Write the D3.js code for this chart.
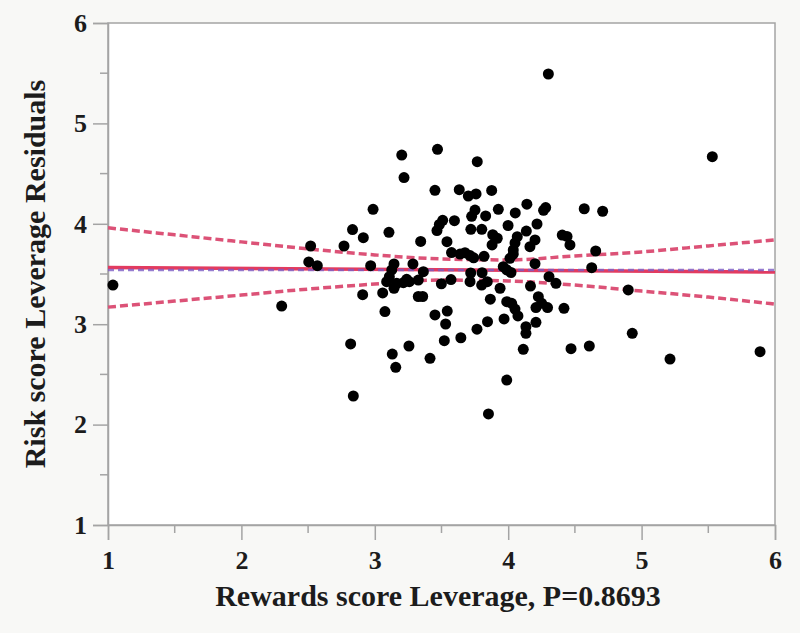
<!DOCTYPE html>
<html>
<head>
<meta charset="utf-8">
<script src="https://cdn.jsdelivr.net/npm/d3@7"></script>
<style>
  html, body { margin: 0; padding: 0; background: #f8f8f6; }
  svg { display: block; }
  text { font-family: "Liberation Serif", "Times New Roman", serif; font-weight: bold; fill: #1c1c1c; }
</style>
</head>
<body>
<svg id="chart" width="800" height="633"></svg>
<script>
// Leverage plot: Risk score residuals against Rewards score leverage
const xLabel = "Rewards score Leverage, P=0.8693";
const yLabel = "Risk score Leverage Residuals";
const xTicks = [1, 2, 3, 4, 5, 6];
const yTicks = [1, 2, 3, 4, 5, 6];

// Leverage points
const rewardsLeverage = [
  1.037, 2.302, 2.519, 2.505, 2.569, 2.769, 2.833, 2.914, 2.987, 3.106,
  3.202, 3.219, 2.969, 3.144, 3.127, 3.109, 3.089, 3.164, 3.214, 3.259,
  3.144, 2.909, 3.059, 3.076, 2.819, 2.839, 3.131, 3.157, 3.256, 3.414,
  3.326, 3.359, 3.451, 3.543, 3.531, 3.521, 3.645, 3.766, 3.845, 3.866,
  3.286, 3.364, 3.326, 3.239, 3.344, 3.470, 3.768, 3.451, 3.633, 3.701,
  3.759, 3.876, 3.751, 3.726, 3.831, 3.926, 3.509, 3.484, 3.466, 3.597,
  3.720, 3.802, 3.884, 3.541, 3.575, 3.639, 3.676, 3.714, 3.741, 3.819,
  3.879, 3.918, 3.719, 3.804, 3.499, 3.571, 3.714, 3.801, 3.843, 3.939,
  3.969, 3.989, 4.026, 4.051, 4.073, 4.133, 4.133, 4.113, 4.208, 4.226,
  4.208, 4.251, 4.295, 4.418, 3.989, 3.852, 4.471, 4.608, 4.167, 4.301,
  5.530, 4.140, 4.053, 4.281, 4.265, 4.570, 4.708, 3.999, 4.216, 4.136,
  4.201, 4.163, 4.068, 4.051, 4.038, 4.013, 4.405, 4.441, 4.463, 4.656,
  4.626, 3.963, 3.989, 4.021, 4.201, 4.038, 4.306, 4.358, 4.900, 4.930,
  5.213, 5.888
];
const riskResiduals = [
  3.390, 3.181, 3.779, 3.620, 3.583, 3.779, 3.943, 3.862, 4.144, 3.915,
  4.685, 4.461, 3.583, 3.600, 3.540, 3.473, 3.423, 3.407, 3.413, 3.423,
  3.358, 3.294, 3.311, 3.126, 2.803, 2.285, 2.703, 2.571, 2.783, 2.660,
  3.276, 3.276, 3.092, 3.131, 3.002, 2.836, 2.865, 2.950, 3.025, 3.249,
  3.600, 3.523, 3.440, 3.447, 3.824, 4.742, 4.619, 4.334, 4.340, 4.277,
  4.297, 4.332, 4.137, 4.075, 4.078, 4.144, 4.035, 3.993, 3.933, 4.031,
  3.945, 3.945, 3.891, 3.822, 3.714, 3.699, 3.712, 3.684, 3.661, 3.676,
  3.789, 3.856, 3.510, 3.513, 3.403, 3.445, 3.423, 3.390, 3.423, 3.358,
  3.052, 3.224, 3.208, 3.151, 3.082, 2.975, 2.909, 2.750, 3.019, 3.274,
  3.166, 3.208, 3.166, 3.158, 2.444, 2.106, 2.756, 2.783, 3.380, 5.492,
  4.668, 4.195, 4.108, 4.162, 4.134, 4.150, 4.125, 3.983, 3.998, 3.928,
  3.839, 3.772, 3.872, 3.809, 3.739, 3.656, 3.888, 3.874, 3.789, 3.729,
  3.563, 3.573, 3.540, 3.515, 3.603, 3.699, 3.473, 3.407, 3.341, 2.909,
  2.653, 2.726
];

// Fitted line, its confidence band and the horizontal mean line
const fitX = [1, 6];
const fitY = [3.565, 3.520];
const meanY = [3.54, 3.54];
const bandX = [1, 1.5, 2, 2.5, 3, 3.5, 4, 4.5, 5, 5.5, 6];
const bandUpper = [3.96, 3.89, 3.82, 3.75, 3.69, 3.65, 3.64, 3.68, 3.72, 3.78, 3.84];
const bandLower = [3.17, 3.23, 3.29, 3.35, 3.40, 3.44, 3.43, 3.39, 3.33, 3.27, 3.20];

const W = 800, H = 633;
const margin = { top: 23, right: 25, bottom: 108, left: 108 };
const svg = d3.select("#chart");

const x = d3.scaleLinear().domain([1, 6]).range([margin.left, W - margin.right]);
const y = d3.scaleLinear().domain([1, 6]).range([H - margin.bottom, margin.top]);

const frameColor = "#a4a4a4";

// plot area
svg.append("rect")
  .attr("x", x(1)).attr("y", y(6))
  .attr("width", x(6) - x(1)).attr("height", y(1) - y(6))
  .attr("fill", "#ffffff")
  .attr("stroke", frameColor).attr("stroke-width", 1.5);

// minor ticks
const minorVals = [1.5, 2.5, 3.5, 4.5, 5.5];
svg.append("g").selectAll("line").data(minorVals).join("line")
  .attr("x1", d => x(d)).attr("x2", d => x(d))
  .attr("y1", y(1)).attr("y2", y(1) + 8)
  .attr("stroke", frameColor).attr("stroke-width", 1.5);
svg.append("g").selectAll("line").data(minorVals).join("line")
  .attr("y1", d => y(d)).attr("y2", d => y(d))
  .attr("x1", x(1) - 8).attr("x2", x(1))
  .attr("stroke", frameColor).attr("stroke-width", 1.5);

// x axis
const xAxis = svg.append("g")
  .attr("transform", `translate(0,${y(1)})`)
  .call(d3.axisBottom(x).tickValues(xTicks).tickFormat(d3.format("d")).tickSize(15).tickPadding(11));
xAxis.select(".domain").attr("stroke", frameColor).attr("stroke-width", 1.5);
xAxis.selectAll(".tick line").attr("stroke", frameColor).attr("stroke-width", 1.5);
xAxis.selectAll(".tick text")
  .attr("font-size", 26).attr("font-family", "Liberation Serif, serif")
  .attr("font-weight", "bold").attr("fill", "#1c1c1c");

// y axis
const yAxis = svg.append("g")
  .attr("transform", `translate(${x(1)},0)`)
  .call(d3.axisLeft(y).tickValues(yTicks).tickFormat(d3.format("d")).tickSize(15).tickPadding(6));
yAxis.select(".domain").attr("stroke", frameColor).attr("stroke-width", 1.5);
yAxis.selectAll(".tick line").attr("stroke", frameColor).attr("stroke-width", 1.5);
yAxis.selectAll(".tick text")
  .attr("font-size", 26).attr("font-family", "Liberation Serif, serif")
  .attr("font-weight", "bold").attr("fill", "#1c1c1c");

// axis titles
svg.append("text")
  .attr("x", 438).attr("y", 606)
  .attr("text-anchor", "middle").attr("font-size", 30)
  .text(xLabel);
svg.append("text")
  .attr("transform", `translate(45,${(y(1) + y(6)) / 2}) rotate(-90)`)
  .attr("text-anchor", "middle").attr("font-size", 30)
  .text(yLabel);

// lines
const line = d3.line().x(d => x(d[0])).y(d => y(d[1]));
const curve = d3.line().x(d => x(d[0])).y(d => y(d[1])).curve(d3.curveMonotoneX);

svg.append("path")
  .attr("d", curve(bandX.map((v, i) => [v, bandUpper[i]])))
  .attr("fill", "none").attr("stroke", "#dc5277").attr("stroke-width", 3.5)
  .attr("stroke-dasharray", "8,4");
svg.append("path")
  .attr("d", curve(bandX.map((v, i) => [v, bandLower[i]])))
  .attr("fill", "none").attr("stroke", "#dc5277").attr("stroke-width", 3.5)
  .attr("stroke-dasharray", "8,4");

svg.append("path")
  .attr("d", line(fitX.map((v, i) => [v, fitY[i]])))
  .attr("fill", "none").attr("stroke", "#e23b60").attr("stroke-width", 3.5);
svg.append("path")
  .attr("d", line(fitX.map((v, i) => [v, meanY[i]])))
  .attr("fill", "none").attr("stroke", "#7c5cc4").attr("stroke-width", 2.4)
  .attr("stroke-dasharray", "6,4").attr("opacity", 0.8);

// points
svg.append("g").selectAll("circle")
  .data(rewardsLeverage.map((v, i) => [v, riskResiduals[i]]))
  .join("circle")
  .attr("cx", d => x(d[0])).attr("cy", d => y(d[1]))
  .attr("r", 5.5).attr("fill", "#000000");
</script>
</body>
</html>
